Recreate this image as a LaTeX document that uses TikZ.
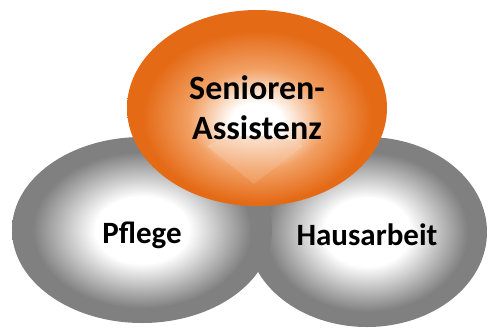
\documentclass[tikz,border=0pt]{standalone}
\usepackage{fontspec}
\setmainfont{Carlito}
\usetikzlibrary{shapes.geometric}
\definecolor{orangeedge}{RGB}{228,106,22}
\definecolor{orangemid}{RGB}{242,160,100}
\definecolor{greyedge}{RGB}{128,128,128}
\pgfdeclareradialshading{orangeglow}{\pgfpoint{0bp}{-4bp}}{color(0bp)=(white); color(5bp)=(white); color(13bp)=(orangemid); color(22bp)=(orangeedge); color(50bp)=(orangeedge)}
\pgfdeclareradialshading{greyglow}{\pgfpoint{0bp}{0bp}}{color(0bp)=(white); color(9bp)=(white); color(21bp)=(greyedge); color(50bp)=(greyedge)}
\tikzset{
    bubble/.style={ellipse, inner sep=0pt, align=center},   % one circle of the diagram
    grey bubble/.style={bubble, shading=greyglow, text height=26pt, text depth=0pt, font=\bfseries\fontsize{31}{36}\selectfont},
    orange bubble/.style={bubble, shading=orangeglow},
    title/.style={align=center, inner sep=0pt, font=\bfseries\fontsize{34}{40}\selectfont}
    }

\begin{document}
\begin{tikzpicture}[x=1pt,y=-1pt]
	\useasboundingbox (0,0) rectangle (493,330);
	\node[grey bubble, minimum width=240pt, minimum height=190pt] (haus) at (367,232) {Hausarbeit};
	\node[grey bubble, minimum width=260pt, minimum height=186pt] (pflege) at (142,230) {Pflege};
	\node[orange bubble, minimum width=260pt, minimum height=196pt] (senior) at (257,108) {};
	% light point under the text
	\shade[top color=orangemid!40!white, bottom color=orangemid, opacity=0.75]
		(207,146) .. controls (230,132) and (280,132) .. (303,146) -- (254,184) -- cycle;
	\node[title] (seniortext) at (senior.center) {Senioren-\\Assistenz};
\end{tikzpicture}
\end{document}
